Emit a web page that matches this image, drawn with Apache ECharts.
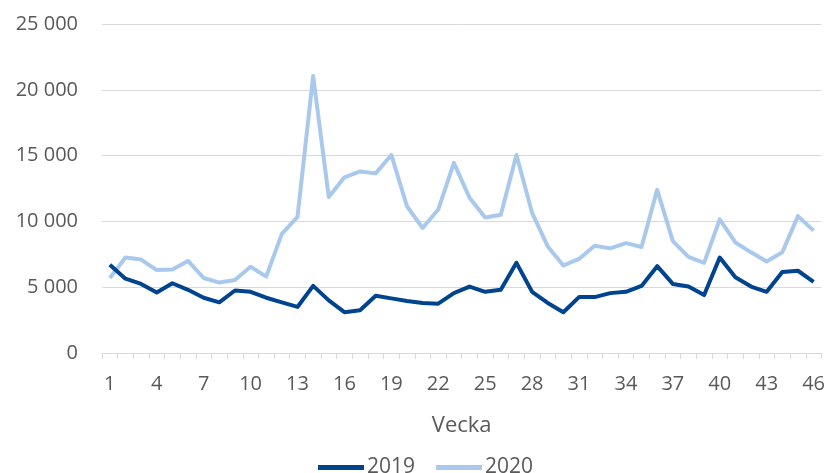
<!DOCTYPE html>
<html><head><meta charset="utf-8">
<script src="https://cdn.jsdelivr.net/npm/echarts@6/dist/echarts.min.js"></script>
<style>html,body{margin:0;padding:0;background:#fff}#c{width:828px;height:473px}</style>
</head><body><div id="c"></div>
<script>
const weeks = Array.from({length:46},(_,i)=>String(i+1));
const s2019 = [6700,5650,5250,4600,5300,4800,4200,3850,4750,4650,4200,3850,3500,5100,4000,3100,3250,4350,4150,3950,3800,3750,4550,5050,4650,4800,6850,4650,3800,3100,4250,4250,4550,4650,5100,6600,5250,5050,4400,7250,5750,5050,4650,6150,6250,5400];
const s2020 = [5700,7250,7100,6300,6350,7000,5700,5350,5550,6550,5800,9050,10350,21050,11850,13350,13800,13650,15050,11150,9500,10900,14450,11800,10300,10500,15050,10650,8100,6650,7150,8150,7950,8350,8050,12400,8500,7300,6850,10150,8400,7650,6950,7650,10400,9300];
const yTicks = [0,5000,10000,15000,20000,25000];
const fmt = v => String(v).replace(/\B(?=(\d{3})+(?!\d))/g,' ');
const txt = '#595959';
const font = 'Open Sans';
const chart = echarts.init(document.getElementById('c'));
chart.setOption({
  animation:false,
  grid:{left:102,right:5,top:24,bottom:120,containLabel:false},
  xAxis:{type:'category',data:weeks,boundaryGap:true,
    name:'Vecka',nameLocation:'middle',nameGap:62,
    nameTextStyle:{color:txt,fontSize:22,fontFamily:font},
    axisLine:{lineStyle:{color:'#d9d9d9',width:1}},
    axisTick:{show:true,interval:0,length:6,lineStyle:{color:'#d9d9d9'}},
    axisLabel:{interval:2,color:txt,fontSize:20,fontFamily:font,margin:21}},
  yAxis:{type:'value',min:yTicks[0],max:yTicks[yTicks.length-1],interval:5000,
    axisLine:{show:false},axisTick:{show:false},
    splitLine:{lineStyle:{color:'#d9d9d9',width:1}},
    axisLabel:{color:txt,fontSize:20,fontFamily:font,margin:24,formatter:fmt}},
  legend:{top:452,left:313,itemWidth:46,itemHeight:5,itemGap:21,icon:'rect',
    textStyle:{color:txt,fontSize:21,fontFamily:font,padding:[0,0,0,-2]},
    data:['2019','2020']},
  series:[
    {name:'2019',type:'line',data:s2019,showSymbol:false,symbol:'none',z:3,
      lineStyle:{color:'#004490',width:4,join:'round'},itemStyle:{color:'#004490'}},
    {name:'2020',type:'line',data:s2020,showSymbol:false,symbol:'none',z:2,
      lineStyle:{color:'#a9c9ec',width:4,join:'round'},itemStyle:{color:'#a9c9ec'}}
  ]
});
</script></body></html>
